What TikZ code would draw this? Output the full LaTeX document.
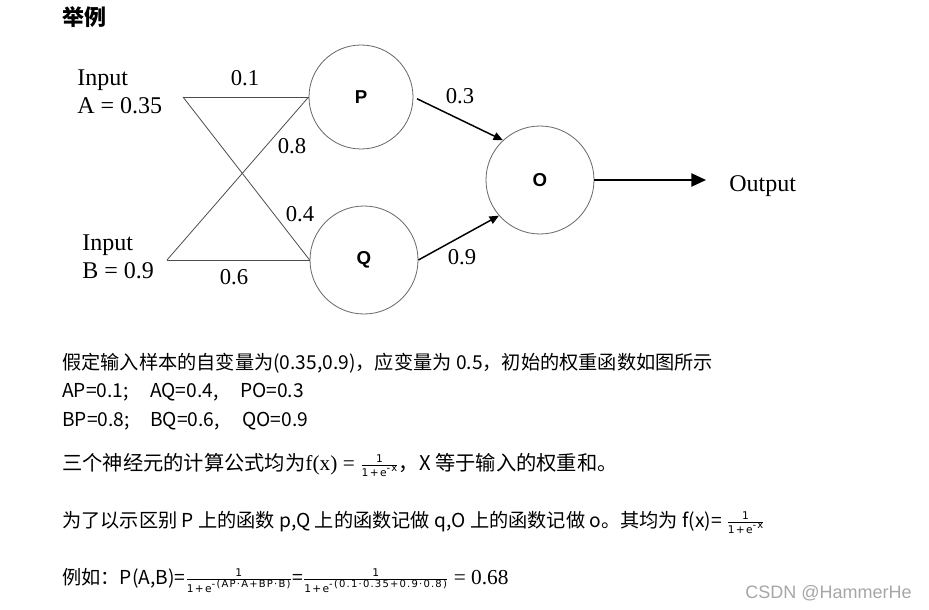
\documentclass[tikz,border=0pt]{standalone}
\usepackage{fontspec}
\setmainfont{Liberation Serif}
\newfontfamily\cjk{Noto Sans CJK SC}
\newfontfamily\arialfont{Liberation Sans}
\newfontfamily\fracfont{DejaVu Sans}[LetterSpace=12]
\usetikzlibrary{arrows.meta}

% small sigmoid fraction 1/(1+e^{...})
\newcommand{\sigfrac}[1]{\ensuremath{\frac{\hbox{\fracfont\fontsize{8}{8}\selectfont 1}}{\hbox{\fracfont\fontsize{8}{8}\selectfont 1+e\raisebox{3.5pt}{\fontsize{7.5}{7.5}\selectfont #1}}}}}

\tikzset{
  neuron/.style={circle, draw=gray!80!black, line width=0.6pt, inner sep=0pt,
    font=\arialfont\bfseries\fontsize{14}{14}\selectfont},
  wire/.style={draw=gray!60!black, line width=0.6pt},
  feed/.style={-{Triangle[length=7pt,width=6pt]}, line width=1.1pt},
  bigfeed/.style={-{Triangle[length=11pt,width=10pt]}, line width=1.1pt},
  weight/.style={font=\fontsize{17}{17}\selectfont, inner sep=0pt},
  inlabel/.style={anchor=north west, align=left, inner sep=0pt,
    font=\fontsize{18}{21}\selectfont},
  txt/.style={anchor=base west, inner sep=0pt, font=\cjk\fontsize{14.4}{16}\selectfont}
}

\begin{document}
\begin{tikzpicture}[x=0.75pt, y=-0.75pt]
  \useasboundingbox (0,0) rectangle (929,610);

  \node[anchor=base west, inner sep=0pt, font=\cjk\bfseries\fontsize{16.5}{18}\selectfont] (title) at (62,26) {举例};

  % inputs
  \node[inlabel] (inA) at (77,70) {Input\\A = 0.35};
  \node[inlabel] (inB) at (82,235) {Input\\B = 0.9};
  \coordinate (a) at (183,97);
  \coordinate (b) at (167,260);

  % neurons
  \node[neuron, minimum size=78pt] (P) at (361,97) {P};
  \node[neuron, minimum size=81pt] (Q) at (364,260) {Q};
  \node[neuron, minimum size=81pt] (O) at (540,180) {O};
  \coordinate (out) at (706,180);
  \node[anchor=west, inner sep=0pt, font=\fontsize{18}{18}\selectfont] (output) at (729,186) {Output};

  \draw[wire] (a) -- (P.west);
  \draw[wire] (a) -- (Q.west);
  \draw[wire] (b) -- (P.west);
  \draw[wire] (b) -- (Q.west);
  \draw[feed, shorten <=3pt] (P.east) -- (O.133);
  \draw[feed] (Q.east) -- (O.221);
  \draw[bigfeed] (O.east) -- (out);

  % weights
  \node[weight] (wAP) at (245,78) {0.1};
  \node[weight] (wBP) at (292,146) {0.8};
  \node[weight] (wAQ) at (300,214) {0.4};
  \node[weight] (wBQ) at (234,277) {0.6};
  \node[weight] (wPO) at (460,96) {0.3};
  \node[weight] (wQO) at (462,257) {0.9};

  % text below
  \node[txt] (l1) at (62,369) {假定输入样本的自变量为(0.35,0.9)，应变量为 0.5，初始的权重函数如图所示};
  \node[txt] (l2a) at (62,397) {AP=0.1;};
  \node[txt] (l2b) at (150,397) {AQ=0.4,};
  \node[txt] (l2c) at (240,397) {PO=0.3};
  \node[txt] (l3a) at (62,426) {BP=0.8;};
  \node[txt] (l3b) at (150,426) {BQ=0.6,};
  \node[txt] (l3c) at (242,426) {QO=0.9};
  \node[txt, font=\cjk\fontsize{15.2}{16}\selectfont] (l4) at (62,470) {三个神经元的计算公式均为{\rmfamily\fontsize{16}{16}\selectfont f(x) = }\sigfrac{-x}，X 等于输入的权重和。};
  \node[txt] (l5) at (62,527) {为了以示区别 P 上的函数 p,Q 上的函数记做 q,O 上的函数记做 o。其均为 f(x)= \sigfrac{-x}};
  \node[txt] (l6) at (62,584) {例如：P(A,B)=\sigfrac{-(AP·A+BP·B)}=\sigfrac{-(0.1·0.35+0.9·0.8)}{\rmfamily\fontsize{16}{16}\selectfont\ = 0.68}};

  \node[anchor=base west, inner sep=0pt, font=\arialfont\fontsize{13.5}{14}\selectfont, text=gray!70] (mark) at (745,598) {CSDN @HammerHe};
\end{tikzpicture}
\end{document}
